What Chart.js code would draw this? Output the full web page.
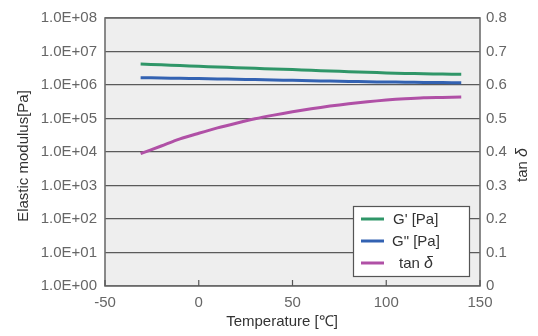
<!DOCTYPE html>
<html>
<head>
<meta charset="utf-8">
<script src="https://cdn.jsdelivr.net/npm/chart.js@4.4.1/dist/chart.umd.min.js"></script>
<style>
html,body{margin:0;padding:0;background:#fff;}
#wrap{width:538px;height:336px;position:relative;}
</style>
</head>
<body>
<div id="wrap"><canvas id="c" width="538" height="336"></canvas></div>
<script>
const temperatures = [-31,-20,-10,0,10,20,30,40,50,60,70,80,90,100,110,120,130,140];
const gPrime =       [4.2e6,4.0e6,3.8e6,3.6e6,3.45e6,3.3e6,3.15e6,3.0e6,2.88e6,2.75e6,2.62e6,2.5e6,2.4e6,2.3e6,2.22e6,2.16e6,2.12e6,2.1e6];
const gDouble =      [1.65e6,1.62e6,1.58e6,1.55e6,1.52e6,1.48e6,1.45e6,1.41e6,1.38e6,1.34e6,1.31e6,1.28e6,1.25e6,1.23e6,1.21e6,1.19e6,1.18e6,1.17e6];
const tanDelta =     [0.395,0.418,0.439,0.456,0.472,0.486,0.499,0.51,0.52,0.529,0.537,0.544,0.55,0.555,0.559,0.562,0.563,0.564];
const xTicks = [-50,0,50,100,150];
const leftTicks = [1,10,100,1e3,1e4,1e5,1e6,1e7,1e8];
const rightTicks = [0,0.1,0.2,0.3,0.4,0.5,0.6,0.7,0.8];
const seriesNames = ["G' [Pa]", 'G" [Pa]', "tan \u03b4"];
const seriesColors = ['#2f9668','#3362b2','#b050a6'];

const FONT = '"Liberation Sans", Arial, Helvetica, sans-serif';
const toPts = (ys) => temperatures.map((t,i)=>({x:t,y:ys[i]}));
function fmtExp(v){
  const e = Math.round(Math.log10(v));
  return '1.0E+' + (e<10?'0':'') + e;
}

const decor = {
  id:'decor',
  beforeDraw(chart){
    const {ctx, chartArea:a} = chart;
    ctx.save();
    ctx.fillStyle = '#eeeeee';
    ctx.fillRect(a.left, a.top, a.right-a.left, a.bottom-a.top);
    ctx.restore();
  },
  afterDraw(chart){
    const {ctx, chartArea:a, scales} = chart;
    ctx.save();
    ctx.strokeStyle = '#6e6e6e';
    ctx.lineWidth = 1.6;
    ctx.strokeRect(a.left, a.top, a.right-a.left, a.bottom-a.top);
    ctx.lineWidth = 1.2;
    ctx.strokeStyle = '#555';
    xTicks.forEach(t=>{
      const px = scales.x.getPixelForValue(t);
      ctx.beginPath(); ctx.moveTo(px, a.bottom); ctx.lineTo(px, a.bottom-6); ctx.stroke();
    });
    // legend box
    const lx=353, ly=206, lw=116, lh=70;
    ctx.fillStyle='#ffffff';
    ctx.fillRect(lx,ly,lw,lh);
    ctx.strokeStyle='#555';
    ctx.lineWidth=1.2;
    ctx.strokeRect(lx+0.5,ly+0.5,lw,lh);
    const rows=[219,241,263];
    ctx.font = '15px ' + FONT;
    ctx.textBaseline='middle';
    ctx.textAlign='left';
    rows.forEach((y,i)=>{
      ctx.strokeStyle=seriesColors[i];
      ctx.lineWidth=3;
      ctx.beginPath(); ctx.moveTo(361,y); ctx.lineTo(384,y); ctx.stroke();
      ctx.fillStyle='#333';
      if(i<2){
        ctx.fillText(seriesNames[i], i==0?393:392, y+1);
      } else {
        ctx.font = '15px ' + FONT;
        ctx.fillText('tan', 399, y+1);
        const w = ctx.measureText('tan ').width;
        ctx.font = 'italic 16px ' + FONT;
        ctx.fillText('\u03b4', 399+w, y+1);
        ctx.font = '15px ' + FONT;
      }
    });
    // axis titles
    ctx.fillStyle='#333';
    ctx.font='15px ' + FONT;
    ctx.textAlign='center';
    ctx.textBaseline='middle';
    ctx.save();
    ctx.translate(24,156);
    ctx.rotate(-Math.PI/2);
    ctx.fillText('Elastic modulus[Pa]',0,0);
    ctx.restore();
    ctx.fillText('Temperature [\u2103]', 282, 322);
    ctx.save();
    ctx.translate(523,165);
    ctx.rotate(-Math.PI/2);
    ctx.textAlign='left';
    const tw = ctx.measureText('tan ').width;
    ctx.font='italic 16px ' + FONT;
    const dw = ctx.measureText('\u03b4').width;
    ctx.font='15px ' + FONT;
    const start = -(tw+dw)/2;
    ctx.fillText('tan ', start, 0);
    ctx.font='italic 16px ' + FONT;
    ctx.fillText('\u03b4', start+tw, 0);
    ctx.restore();
    ctx.restore();
  }
};

new Chart(document.getElementById('c'), {
  type:'line',
  data:{
    datasets:[
      {label:seriesNames[0], data:toPts(gPrime), borderColor:seriesColors[0], borderWidth:3, pointRadius:0, yAxisID:'y', tension:0.3},
      {label:seriesNames[1], data:toPts(gDouble), borderColor:seriesColors[1], borderWidth:3, pointRadius:0, yAxisID:'y', tension:0.3},
      {label:seriesNames[2], data:toPts(tanDelta), borderColor:seriesColors[2], borderWidth:3, pointRadius:0, yAxisID:'y2', tension:0.3}
    ]
  },
  options:{
    responsive:false,
    animation:false,
    events:[],
    layout:{padding:{top:18,left:0,right:0,bottom:0}},
    plugins:{legend:{display:false}, tooltip:{enabled:false}},
    scales:{
      x:{
        type:'linear', min:-50, max:150,
        afterBuildTicks(s){ s.ticks = xTicks.map(v=>({value:v})); },
        afterFit(s){ s.height = 50; },
        grid:{display:false},
        border:{display:false},
        ticks:{color:'#666', font:{size:15, family:FONT}, padding:0, maxRotation:0,
          callback:(v)=>String(v)}
      },
      y:{
        type:'logarithmic', position:'left', min:1, max:1e8,
        afterBuildTicks(s){ s.ticks = leftTicks.map(v=>({value:v})); },
        afterFit(s){ s.width = 105; },
        grid:{color:'#5a5a5a', lineWidth:1.2, drawTicks:false},
        border:{display:false},
        ticks:{color:'#666', font:{size:15, family:FONT}, padding:8, callback:(v)=>fmtExp(v)}
      },
      y2:{
        type:'linear', position:'right', min:0, max:0.8,
        afterBuildTicks(s){ s.ticks = rightTicks.map(v=>({value:v})); },
        afterFit(s){ s.width = 58; },
        grid:{drawOnChartArea:false, drawTicks:false},
        border:{display:false},
        ticks:{color:'#666', font:{size:15, family:FONT}, padding:6,
          callback:(v)=>String(Math.round(v*10)/10)}
      }
    }
  },
  plugins:[decor]
});
</script>
</body>
</html>
